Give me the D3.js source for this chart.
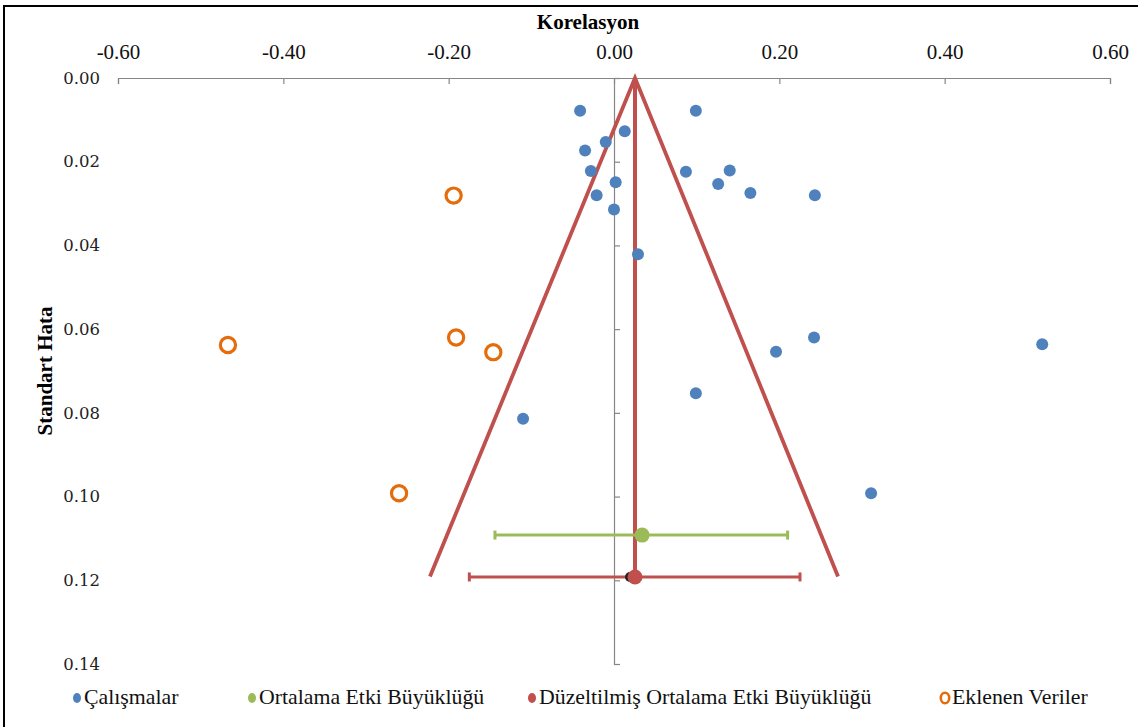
<!DOCTYPE html>
<html>
<head>
<meta charset="utf-8">
<script src="https://cdn.jsdelivr.net/npm/d3@7/dist/d3.min.js"></script>
<style>
  html, body { margin: 0; padding: 0; background: #fff; }
  svg { display: block; }
</style>
</head>
<body>
<svg id="chart" width="1138" height="727"></svg>
<script>
// ---------------- data ----------------
const xTicks = [-0.6, -0.4, -0.2, 0.0, 0.2, 0.4, 0.6];
const yTicks = [0.00, 0.02, 0.04, 0.06, 0.08, 0.10, 0.12, 0.14];

// Çalışmalar (studies): correlation and standard error
const studyR  = [-0.041, 0.099, 0.013, -0.010, -0.035, -0.028, 0.002, -0.021, 0.000, 0.087, 0.140,
                 0.126, 0.165, 0.243, 0.029, 0.242, 0.196, 0.518, 0.099, -0.110, 0.311];
const studySE = [0.0078, 0.0078, 0.0127, 0.0153, 0.0173, 0.0222, 0.0249, 0.0280, 0.0314, 0.0224, 0.0221,
                 0.0253, 0.0275, 0.0280, 0.0421, 0.0620, 0.0654, 0.0636, 0.0753, 0.0814, 0.0992];

// Eklenen Veriler (imputed studies)
const addedR  = [-0.194, -0.467, -0.191, -0.146, -0.260];
const addedSE = [0.0281, 0.0638, 0.0620, 0.0655, 0.0992];

// Ortalama Etki Büyüklüğü (mean effect) with CI
const meanR = 0.034, meanSE = 0.1092, meanLow = -0.144, meanHigh = 0.210;
// Düzeltilmiş Ortalama Etki Büyüklüğü (adjusted mean) with CI
const adjR = 0.0254, adjSE = 0.1192, adjLow = -0.175, adjHigh = 0.225;

// Funnel lines
const funnelR  = [-0.2226, 0.0254, 0.271];
const funnelSE = [0.1191, 0.0, 0.1191];

const legendLabels = ["Çalışmalar", "Ortalama Etki Büyüklüğü", "Düzeltilmiş Ortalama Etki Büyüklüğü", "Eklenen Veriler"];

// ---------------- styles ----------------
const C_BLUE = "#4F81BD", C_GREEN = "#9BBB59", C_RED = "#C0504D", C_ORANGE = "#E46C0A", C_AXIS = "#868686";
const FONT = "'Liberation Serif', 'Times New Roman', serif";
const YFONT = "'DejaVu Serif', serif";

const svg = d3.select("#chart");
svg.append("rect").attr("width", 1138).attr("height", 727).attr("fill", "#fff");
svg.append("rect").attr("x", 4).attr("y", 6).attr("width", 1150).attr("height", 740)
   .attr("fill", "none").attr("stroke", "#000").attr("stroke-width", 2);

const x = d3.scaleLinear().domain([-0.6, 0.6]).range([118, 1110]);
const y = d3.scaleLinear().domain([0, 0.14]).range([78, 664]);
const fmt = v => d3.format(".2f")(v).replace("\u2212", "-");

// top axis
const gx = svg.append("g").attr("transform", `translate(0,${y(0)})`)
  .call(d3.axisTop(x).tickValues(xTicks).tickFormat(fmt).tickSizeInner(-6).tickSizeOuter(-6).tickPadding(19));
// left axis (crossing at x = 0), labels placed at left edge
const gy = svg.append("g").attr("transform", `translate(${x(0)},0)`)
  .call(d3.axisLeft(y).tickValues(yTicks).tickFormat(fmt).tickSizeInner(-6).tickSizeOuter(-6).tickPadding(x(0) - 100));

[gx, gy].forEach(g => {
  g.selectAll("path.domain").attr("stroke", C_AXIS).attr("stroke-width", 1.2);
  g.selectAll(".tick line").attr("stroke", C_AXIS).attr("stroke-width", 1.2);
});
gx.selectAll(".tick text").attr("font-family", FONT).attr("font-size", 21).attr("fill", "#111");
gy.selectAll(".tick text").attr("font-family", YFONT).attr("font-size", 16.5).attr("fill", "#222");

// axis titles
svg.append("text").attr("x", 588).attr("y", 29).attr("text-anchor", "middle")
  .attr("font-family", FONT).attr("font-weight", "bold").attr("font-size", 21).text("Korelasyon");
svg.append("text").attr("transform", "translate(52,371) rotate(-90)").attr("text-anchor", "middle")
  .attr("font-family", FONT).attr("font-weight", "bold").attr("font-size", 21).text("Standart Hata");

// funnel
const funnel = funnelR.map((r, i) => [r, funnelSE[i]]);
svg.append("path").datum(funnel)
  .attr("d", d3.line().x(d => x(d[0])).y(d => y(d[1])))
  .attr("fill", "none").attr("stroke", C_RED).attr("stroke-width", 3.8).attr("stroke-linejoin", "miter");
svg.append("line").attr("x1", x(adjR)).attr("x2", x(adjR)).attr("y1", y(0)).attr("y2", y(adjSE))
  .attr("stroke", C_RED).attr("stroke-width", 4);

// error bars
function errBar(lo, hi, se, color) {
  const g = svg.append("g").attr("stroke", color).attr("stroke-width", 3);
  g.append("line").attr("x1", x(lo)).attr("x2", x(hi)).attr("y1", y(se)).attr("y2", y(se));
  [lo, hi].forEach(v => g.append("line").attr("x1", x(v)).attr("x2", x(v))
    .attr("y1", y(se) - 4.5).attr("y2", y(se) + 4.5));
}
errBar(meanLow, meanHigh, meanSE, C_GREEN);
errBar(adjLow, adjHigh, adjSE, C_RED);

// studies
svg.append("g").selectAll("circle").data(studyR.map((r, i) => [r, studySE[i]])).join("circle")
  .attr("cx", d => x(d[0])).attr("cy", d => y(d[1])).attr("r", 6).attr("fill", C_BLUE);

// added
svg.append("g").selectAll("circle").data(addedR.map((r, i) => [r, addedSE[i]])).join("circle")
  .attr("cx", d => x(d[0])).attr("cy", d => y(d[1])).attr("r", 7.6)
  .attr("fill", "#fff").attr("stroke", C_ORANGE).attr("stroke-width", 3.2);

// mean and adjusted markers
svg.append("circle").attr("cx", x(adjR) - 5).attr("cy", y(adjSE)).attr("r", 5).attr("fill", "#222");
svg.append("circle").attr("cx", x(meanR)).attr("cy", y(meanSE)).attr("r", 7.5).attr("fill", C_GREEN);
svg.append("circle").attr("cx", x(adjR)).attr("cy", y(adjSE)).attr("r", 7.5).attr("fill", C_RED);

// legend
const legX = [77, 252, 532, 945];
const lg = svg.append("g");
legendLabels.forEach((lab, i) => {
  const cx = legX[i], cy = 698;
  if (i < 3) {
    lg.append("ellipse").attr("cx", cx).attr("cy", cy).attr("rx", 4).attr("ry", 5)
      .attr("fill", [C_BLUE, C_GREEN, C_RED][i]);
  } else {
    lg.append("ellipse").attr("cx", cx).attr("cy", cy).attr("rx", 4.2).attr("ry", 5.2)
      .attr("fill", "#fff").attr("stroke", C_ORANGE).attr("stroke-width", 2.6);
  }
  lg.append("text").attr("x", cx + 7).attr("y", cy + 6).attr("font-family", FONT)
    .attr("font-size", 21.8).attr("fill", "#111").text(lab);
});
</script>
</body>
</html>
